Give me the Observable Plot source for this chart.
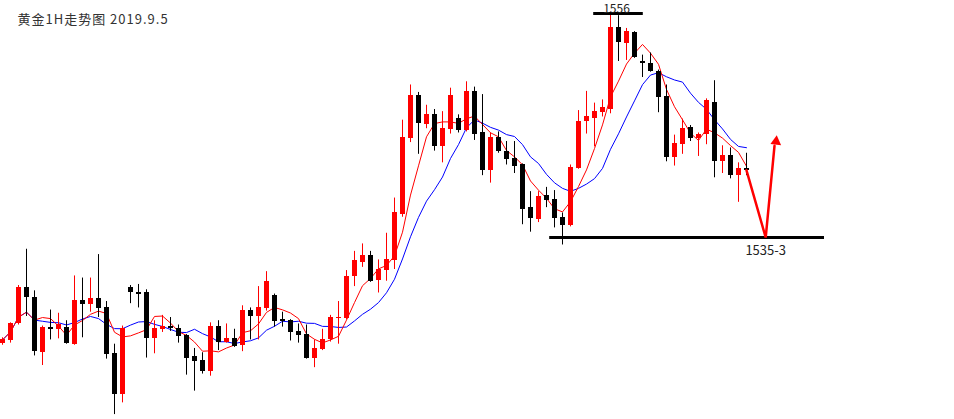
<!DOCTYPE html>
<html>
<head>
<meta charset="utf-8">
<script src="https://cdn.jsdelivr.net/npm/d3@7"></script>
<script src="https://cdn.jsdelivr.net/npm/@observablehq/plot@0.6"></script>
<style>
  html, body { margin: 0; padding: 0; background: #fff; }
  #chart svg { display: block; }
</style>
</head>
<body>
<div id="chart"></div>
<script>
// ---- Data: gold 1H candles (prices in USD) ----
const title = "黄金1H走势图 2019.9.5";

const open = [1525.1,1525.3,1526.9,1530.3,1529.4,1524.2,1526.6,1526.4,1526.6,1525.0,
1529.1,1528.7,1529.3,1528.4,1524.1,1520.3,1530.3,1529.8,1529.8,1525.5,
1526.4,1526.7,1526.5,1525.8,1523.8,1523.5,1522.4,1526.7,1525.2,1525.5,
1524.9,1528.2,1527.6,1528.3,1529.6,1527.3,1527.2,1526.2,1525.9,1523.7,
1524.5,1525.4,1527.4,1527.4,1531.3,1532.7,1533.3,1531.0,1531.9,1532.8,
1537.2,1544.3,1548.3,1545.6,1546.5,1543.5,1545.1,1546.2,1545.0,1548.7,
1544.8,1541.3,1544.4,1543.1,1542.4,1541.8,1537.8,1536.7,1538.9,1538.6,
1536.9,1536.1,1541.5,1545.9,1546.2,1546.7,1547.0,1554.7,1553.2,1554.2,
1551.5,1551.3,1550.6,1548.2,1542.5,1543.7,1545.3,1544.3,1544.7,1547.7,
1542.1,1542.7,1540.8,1541.5];

const high = [1525.6,1527.0,1530.5,1533.9,1530.0,1526.7,1528.2,1527.9,1527.2,1531.4,
1531.2,1531.2,1533.4,1529.0,1525.0,1526.7,1530.5,1530.6,1530.1,1527.2,
1527.7,1527.5,1526.8,1525.9,1524.6,1524.2,1527.0,1527.2,1526.9,1526.4,
1528.6,1528.4,1530.4,1531.8,1529.7,1528.0,1527.3,1526.9,1526.8,1525.4,
1526.4,1527.7,1529.0,1531.9,1533.7,1534.4,1533.7,1532.9,1535.4,1538.7,
1546.0,1549.3,1548.6,1547.4,1547.0,1546.8,1549.0,1546.5,1549.6,1549.1,
1548.4,1544.8,1544.9,1544.0,1544.0,1541.9,1539.3,1539.3,1539.7,1539.4,
1537.3,1541.8,1546.9,1548.7,1547.6,1547.9,1556.1,1555.8,1554.6,1554.3,
1552.1,1552.3,1550.7,1549.3,1544.6,1546.1,1545.5,1544.8,1548.0,1549.7,
1543.6,1543.4,1542.0,1542.9];

const low = [1524.9,1525.1,1526.8,1527.6,1523.9,1523.0,1525.4,1525.5,1525.0,1524.9,
1525.6,1528.0,1527.5,1523.6,1518.4,1519.5,1528.8,1528.4,1523.7,1524.1,
1526.1,1526.2,1525.1,1522.1,1520.6,1522.2,1522.0,1524.4,1525.1,1524.7,
1524.3,1525.4,1525.4,1528.1,1526.6,1526.6,1525.3,1525.1,1523.6,1522.8,
1524.4,1525.2,1525.0,1527.3,1530.4,1532.2,1530.8,1529.8,1530.9,1532.0,
1536.9,1543.9,1542.8,1545.2,1543.1,1542.0,1544.7,1544.8,1544.9,1544.1,
1540.8,1540.1,1542.9,1541.8,1541.0,1536.2,1535.5,1536.4,1537.8,1535.9,
1534.3,1536.0,1541.4,1544.7,1543.5,1546.3,1546.6,1551.5,1551.6,1551.8,
1550.0,1550.5,1546.7,1542.1,1541.7,1542.8,1544.0,1542.6,1543.7,1540.6,
1541.0,1540.5,1538.3,1540.8];

const close = [1525.4,1526.9,1530.3,1529.4,1524.3,1526.6,1526.4,1526.8,1525.1,1529.1,
1528.7,1529.3,1528.3,1524.0,1520.3,1526.5,1529.8,1529.7,1525.5,1526.5,
1526.7,1526.5,1525.7,1523.7,1523.4,1522.4,1526.7,1525.2,1525.5,1524.8,
1528.2,1527.6,1528.4,1530.9,1527.1,1527.1,1526.1,1525.8,1523.7,1524.6,
1525.4,1527.5,1527.5,1531.3,1532.8,1533.3,1530.9,1532.0,1532.9,1537.3,
1544.4,1548.3,1545.7,1546.5,1543.5,1545.2,1548.3,1545.0,1548.7,1544.7,
1541.3,1544.4,1543.1,1542.3,1541.7,1537.6,1536.8,1538.8,1538.5,1536.8,
1536.1,1541.6,1545.9,1546.3,1546.8,1547.2,1554.7,1553.3,1554.3,1551.9,
1551.3,1550.6,1548.1,1542.5,1543.8,1545.2,1544.3,1544.7,1547.8,1542.1,
1542.7,1540.8,1541.5,1541.3];

// moving-average periods shown
const maPeriods = [5, 10];

// annotation levels (price, from candle index, to candle index, label, label centre index)
const levelPrice = [1556, 1535];
const levelFrom  = [73.9, 68.4];
const levelTo    = [80.1, 102.75];
const levelLabel = ["1556", "1535-3"];
const levelLabelAt = [76.75, 95.4];

// projected path (candle index, price)
const pathIndex = [93, 95.4, 96.5];
const pathPrice = [1541.3, 1535.0, 1543.6];
const headIndex = [96.7];
const headPrice = [1544.0];

// ---- Build tables ----
const candles = open.map((o, i) => ({i, open: o, high: high[i], low: low[i], close: close[i], up: close[i] >= o}));
function sma(vals, k) {
  return vals.map((_, i) => d3.mean(vals.slice(Math.max(0, i - k + 1), i + 1)));
}
const ma5 = sma(close, maPeriods[0]);
const ma10 = sma(close, maPeriods[1]);
const maRows = candles.map((d, i) => ({i: d.i, ma5: ma5[i], ma10: ma10[i]}));
const levels = levelPrice.map((p, k) => ({price: p, from: levelFrom[k], to: levelTo[k], label: levelLabel[k], at: levelLabelAt[k]}));
const path = pathIndex.map((x, k) => ({i: x, price: pathPrice[k]}));
const head = headIndex.map((x, k) => ({i: x, price: headPrice[k]}));

const up = candles.filter(d => d.up);
const down = candles.filter(d => !d.up);
const halfBody = 0.3125;

const chart = Plot.plot({
  width: 954,
  height: 419,
  margin: 0,
  style: {fontFamily: "'Noto Sans CJK SC', 'DejaVu Sans', sans-serif", background: "#fff"},
  x: {type: "linear", domain: [-0.25, 119], axis: null},
  y: {domain: [1517.94, 1557.22], axis: null},
  marks: [
    // moving averages
    Plot.line(maRows, {x: "i", y: "ma10", stroke: "#0000ff", strokeWidth: 1}),
    Plot.line(maRows, {x: "i", y: "ma5", stroke: "#ff0000", strokeWidth: 1}),
    // wicks
    Plot.ruleX(up, {x: "i", y1: "low", y2: "high", stroke: "#ff0000", strokeWidth: 1}),
    Plot.ruleX(down, {x: "i", y1: "low", y2: "high", stroke: "#000000", strokeWidth: 1}),
    // bodies
    Plot.rect(up, {x1: d => d.i - halfBody, x2: d => d.i + halfBody, y1: "open", y2: "close", fill: "#ff0000", shapeRendering: "crispEdges"}),
    Plot.rect(down, {x1: d => d.i - halfBody, x2: d => d.i + halfBody, y1: "open", y2: "close", fill: "#000000", shapeRendering: "crispEdges"}),
    // level lines
    Plot.ruleY(levels, {y: "price", x1: "from", x2: "to", stroke: "#000", strokeWidth: 3}),
    Plot.text(levels.slice(0, 1), {x: "at", y: "price", text: "label", lineAnchor: "bottom", dy: -1, fontSize: 12, fill: "#222"}),
    Plot.text(levels.slice(1), {x: "at", y: "price", text: "label", lineAnchor: "top", dy: 8, fontSize: 13, fill: "#222"}),
    // projected path
    Plot.line(path, {x: "i", y: "price", stroke: "#ff0000", strokeWidth: 2.5, strokeLinejoin: "miter"}),
    Plot.dot(head, {x: "i", y: "price", symbol: "triangle", r: 4, fill: "#ff0000", stroke: "none", rotate: 6}),
    // title
    Plot.text([title], {frameAnchor: "top-left", dx: 17, dy: 14, textAnchor: "start", lineAnchor: "top", fontSize: 13, fill: "#333"})
  ]
});
d3.select(chart).selectAll("text").filter(function() { return this.textContent === title; }).style("letter-spacing", "1px");
document.getElementById("chart").appendChild(chart);
</script>
</body>
</html>
